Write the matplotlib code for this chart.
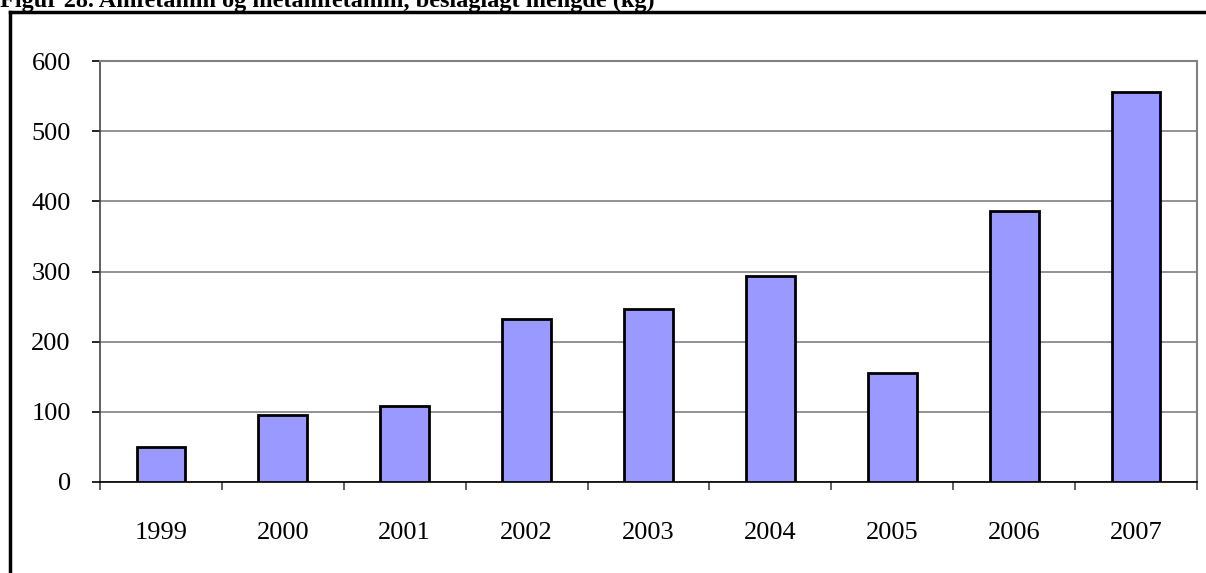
import matplotlib.pyplot as plt
from matplotlib.lines import Line2D
import numpy as np

# data
years = ['1999', '2000', '2001', '2002', '2003', '2004', '2005', '2006', '2007']
amount_kg = [50, 95, 108, 232, 247, 294, 155, 386, 556]
yticks = [0, 100, 200, 300, 400, 500, 600]
title = 'Figur 28. Amfetamin og metamfetamin, beslaglagt mengde (kg)'

plt.rcParams['font.family'] = ['Liberation Serif', 'DejaVu Serif']

fig = plt.figure(figsize=(12.06, 5.73), dpi=100)
ax = fig.add_axes([100/1206, 1 - 482/573, 1097/1206, 421/573])

x = np.arange(len(years))
ax.bar(x, amount_kg, width=0.4, color='#9999ff', edgecolor='black', linewidth=2, zorder=3)

ax.set_xlim(-0.5, len(years) - 0.5)
ax.set_ylim(0, 600)
ax.set_yticks(yticks)
ax.set_yticklabels([str(v) for v in yticks], fontsize=19)
ax.yaxis.grid(True, color='#808080', linewidth=1.2, zorder=0)

# x ticks at category boundaries, labels at centres
ax.set_xticks(np.arange(-0.5, len(years), 1.0))
ax.set_xticklabels([])
ax.set_xticks(x, minor=True)
ax.set_xticklabels(years, minor=True, fontsize=19)
ax.tick_params(axis='x', which='minor', length=0, pad=29)
ax.tick_params(axis='x', which='major', length=6, width=1.2, color='#444444', direction='out')
ax.tick_params(axis='y', length=6, width=1.2, color='black', direction='out', pad=15)

ax.spines['top'].set_color('#808080')
ax.spines['right'].set_color('#808080')
ax.spines['top'].set_linewidth(1.5)
ax.spines['right'].set_linewidth(1.5)
ax.spines['left'].set_color('#444444')
ax.spines['bottom'].set_color('black')
ax.spines['left'].set_linewidth(1.2)
ax.spines['bottom'].set_linewidth(1.2)

# outer frame (only left and top visible) and clipped title
fig.add_artist(Line2D([10/1206, 10/1206], [0, 1 - 12/573], color='black', linewidth=2.5))
fig.add_artist(Line2D([10/1206, 1], [1 - 12/573, 1 - 12/573], color='black', linewidth=2.5))
fig.text(0, 1 - 7/573, title, fontsize=17.5, fontweight='bold', ha='left', va='baseline')

fig.savefig('out.png', dpi=100)
